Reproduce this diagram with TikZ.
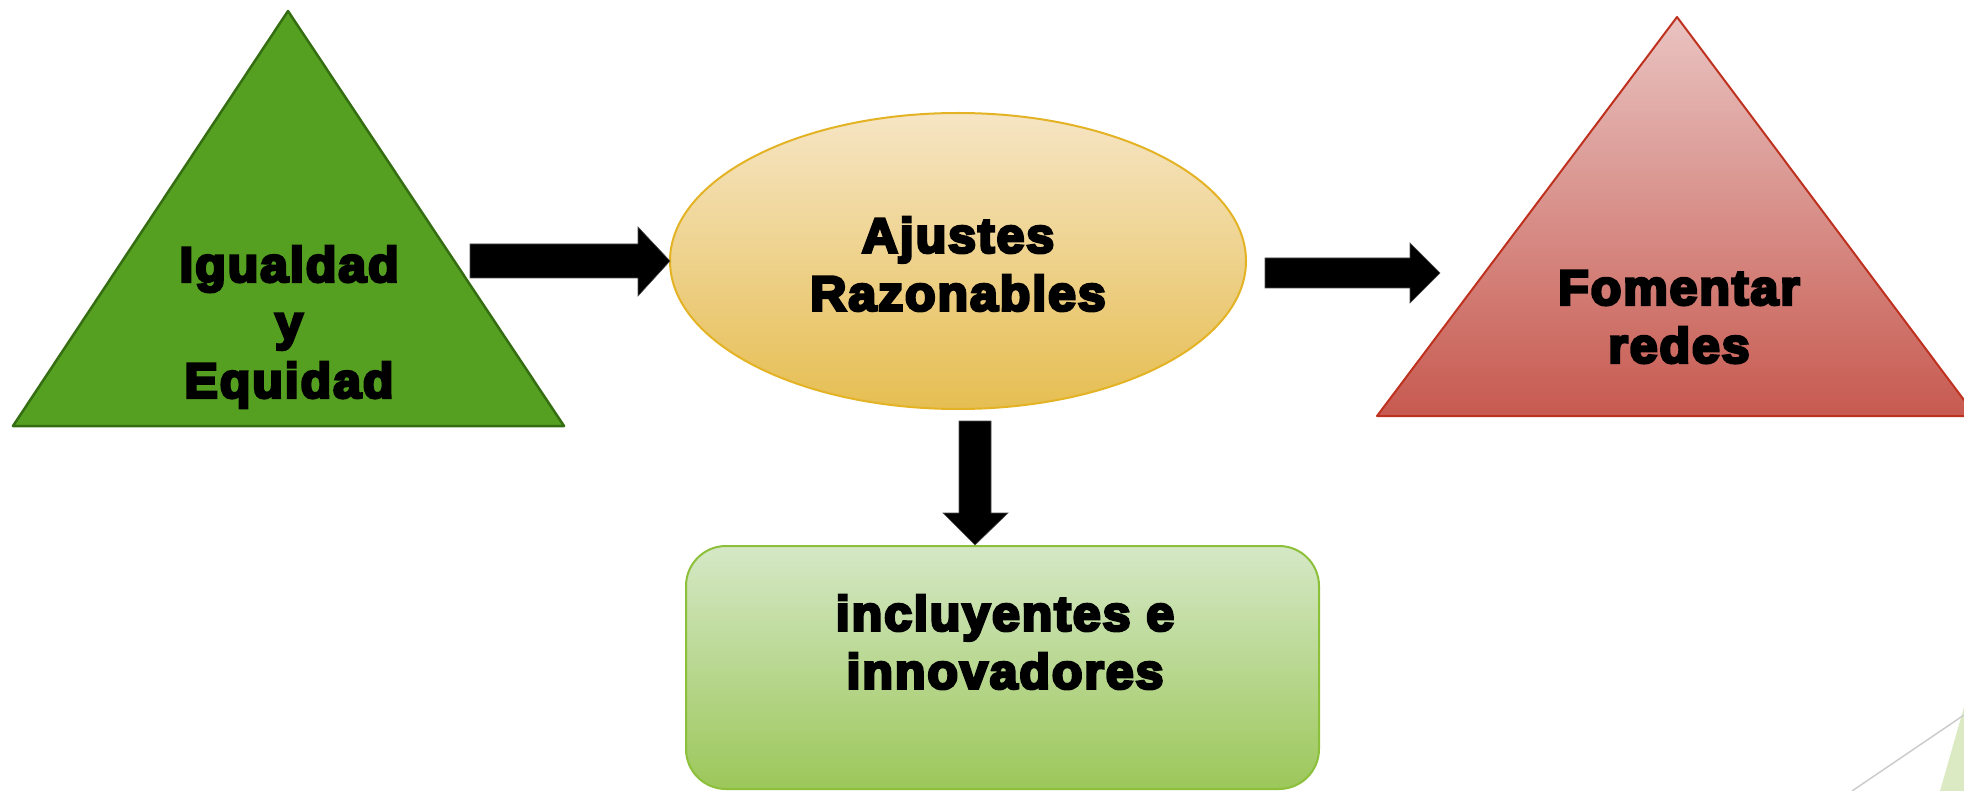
\documentclass[tikz,border=0pt]{standalone}
\usepackage{fontspec}
\newfontfamily\blk{Liberation Sans Bold}[FakeStretch=1.02, FakeBold=6, LetterSpace=4]
\definecolor{gfill}{HTML}{55A021}
\definecolor{gline}{HTML}{356E12}
\definecolor{etop}{HTML}{F6E5C4}
\definecolor{ebot}{HTML}{E6BE52}
\definecolor{eline}{HTML}{E3B325}
\definecolor{rtop}{HTML}{E9C3C1}
\definecolor{rbot}{HTML}{C75A50}
\definecolor{rline}{HTML}{BF311F}
\definecolor{btop}{HTML}{D5E8C6}
\definecolor{bbot}{HTML}{9CC75A}
\definecolor{bline}{HTML}{8CC03A}
\definecolor{pale}{HTML}{DCEAC4}
\tikzset{
  lbl/.style={font=\blk\fontsize{49}{58}\selectfont, align=center, text=black, inner sep=0pt},
  blockarrow/.style={fill=black, draw=black!70, line width=0.6pt}
}
\begin{document}
\begin{tikzpicture}[x=1pt,y=-1pt]
\useasboundingbox (0,0) rectangle (1964,791);
% green triangle
\draw[fill=gfill, draw=gline, line width=2.5pt, line join=round] (288,11) -- (564,426) -- (13,426) -- cycle;
% ellipse
\draw[top color=etop, bottom color=ebot, draw=eline, line width=2pt] (958,261) ellipse [x radius=288, y radius=148];
% red triangle
\draw[top color=rtop, bottom color=rbot, draw=rline, line width=2pt, line join=round] (1677,17) -- (1976,416) -- (1377,416) -- cycle;
% rounded box
\draw[top color=btop, bottom color=bbot, draw=bline, line width=2pt, rounded corners=40pt] (686,546) rectangle (1319,789);
% bottom-right fragment
\fill[pale] (1964,707) -- (1940,791) -- (1964,791) -- cycle;
\draw[black!20, line width=1.5pt] (1852,791) -- (1964,715);
% labels
\node[lbl] (tri1) at (289,327) {Igualdad\\y\\Equidad};
\node[lbl] (ell) at (958,264) {Ajustes\\Razonables};
\node[lbl] (tri2) at (1679,317) {Fomentar\\redes};
\node[lbl] (box) at (1005,642) {incluyentes e\\innovadores};
% block arrows
\coordinate (a1) at (470,261);
\draw[blockarrow] (a1) ++(0,-17) -- (638,244) -- (638,227) -- (670,261) -- (638,296) -- (638,278) -- (470,278) -- cycle;
\coordinate (a2) at (1265,273);
\draw[blockarrow] (a2) ++(0,-15) -- (1410,258) -- (1410,243) -- (1440,273) -- (1410,303) -- (1410,288) -- (1265,288) -- cycle;
\coordinate (a3) at (975,421);
\draw[blockarrow] (a3) ++(-16,0) -- (991,421) -- (991,513) -- (1008,513) -- (975,545) -- (943,513) -- (959,513) -- cycle;
\end{tikzpicture}
\end{document}
